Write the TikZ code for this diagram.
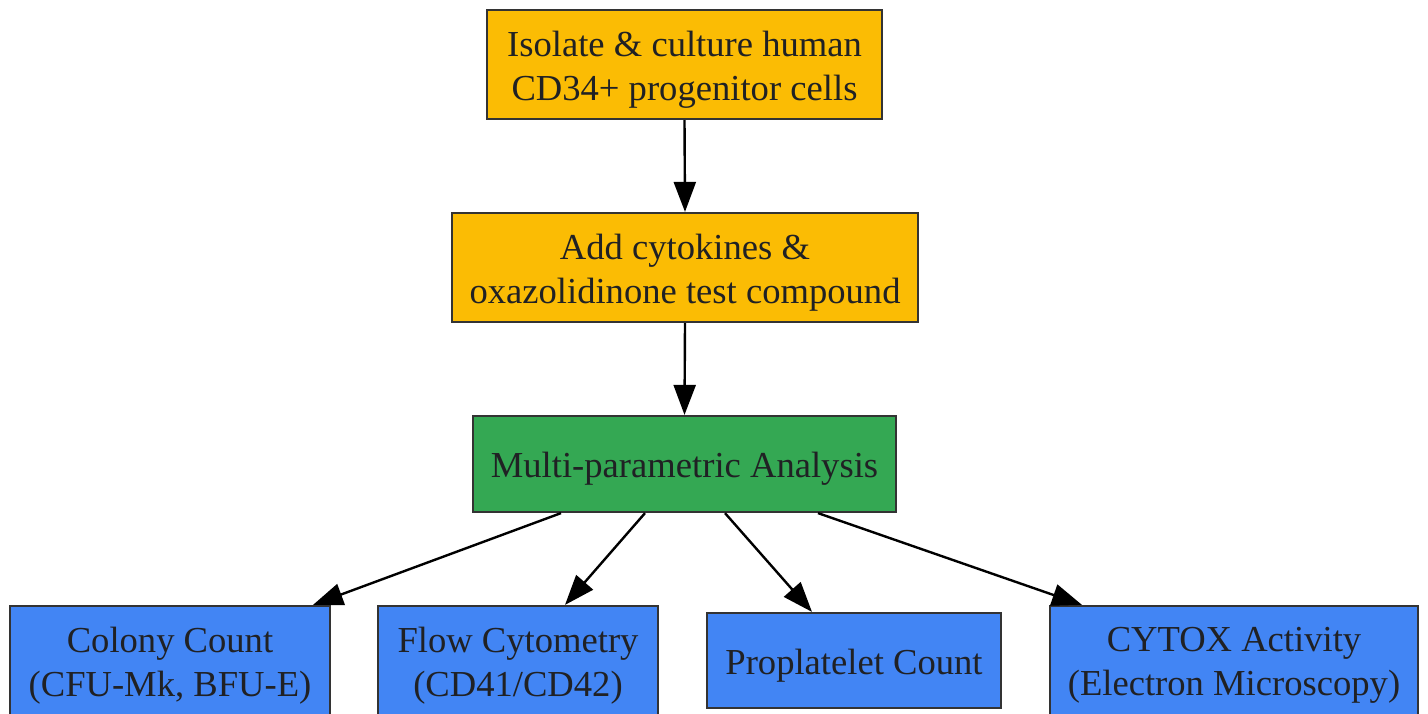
\documentclass[tikz,border=0pt]{standalone}
\usepackage{fontspec}
\setmainfont{Liberation Serif}
\usetikzlibrary{arrows.meta}
\definecolor{orangefill}{HTML}{FBBC04}
\definecolor{greenfill}{HTML}{34A853}
\definecolor{bluefill}{HTML}{4285F4}
\definecolor{edgegray}{HTML}{333333}
\definecolor{textdark}{HTML}{202124}
\tikzset{
  box/.style={draw=edgegray, line width=2.2pt, inner sep=0pt},
  orangebox/.style={box, fill=orangefill},
  greenbox/.style={box, fill=greenfill},
  bluebox/.style={box, fill=bluefill},
  boxtext/.style={inner sep=0pt, align=center, text=textdark,
    font=\fontsize{36.6}{44}\selectfont},
  flow/.style={line width=2.4pt, draw=black, -{Triangle[length=30pt,width=22pt]}}
}
\begin{document}
\begin{tikzpicture}[x=1pt,y=-1pt]
\useasboundingbox (0,0) rectangle (1428,713);
\node[orangebox, minimum width=395pt, minimum height=109pt] (A) at (684.5,64.5) {};
\node[orangebox, minimum width=466pt, minimum height=109pt] (B) at (685,267.5) {};
\node[greenbox, minimum width=423pt, minimum height=96pt] (C) at (684.5,464) {};
\node[bluebox, minimum width=320pt, minimum height=109pt] (D1) at (170,660.5) {};
\node[bluebox, minimum width=280pt, minimum height=109pt] (D2) at (518,660.5) {};
\node[bluebox, minimum width=294pt, minimum height=95pt] (D3) at (854,660.5) {};
\node[bluebox, minimum width=368pt, minimum height=109pt] (D4) at (1234,660.5) {};
\node[boxtext] (At) at ([yshift=-5pt]A.center) {Isolate \& culture human\\CD34+ progenitor cells};
\node[boxtext] (Bt) at ([yshift=-5pt]B.center) {Add cytokines \&\\oxazolidinone test compound};
\node[boxtext] (Ct) at ([yshift=-5pt]C.center) {Multi-parametric Analysis};
\node[boxtext] (D1t) at ([yshift=-5pt]D1.center) {Colony Count\\(CFU-Mk, BFU-E)};
\node[boxtext] (D2t) at ([yshift=-5pt]D2.center) {Flow Cytometry\\(CD41/CD42)};
\node[boxtext] (D3t) at ([yshift=-5pt]D3.center) {Proplatelet Count};
\node[boxtext] (D4t) at ([yshift=-5pt]D4.center) {CYTOX Activity\\(Electron Microscopy)};
\draw[flow] (A.south) -- (B.north);
\draw[flow] (B.south) -- (C.north);
\draw[flow] ([xshift=-123.5pt]C.south) -- ([xshift=143pt]D1.north);
\draw[flow] ([xshift=-39.5pt]C.south) -- ([xshift=47pt]D2.north);
\draw[flow] ([xshift=40.5pt]C.south) -- ([xshift=-42pt]D3.north);
\draw[flow] ([xshift=133.5pt]C.south) -- ([xshift=-152pt]D4.north);
\end{tikzpicture}
\end{document}
